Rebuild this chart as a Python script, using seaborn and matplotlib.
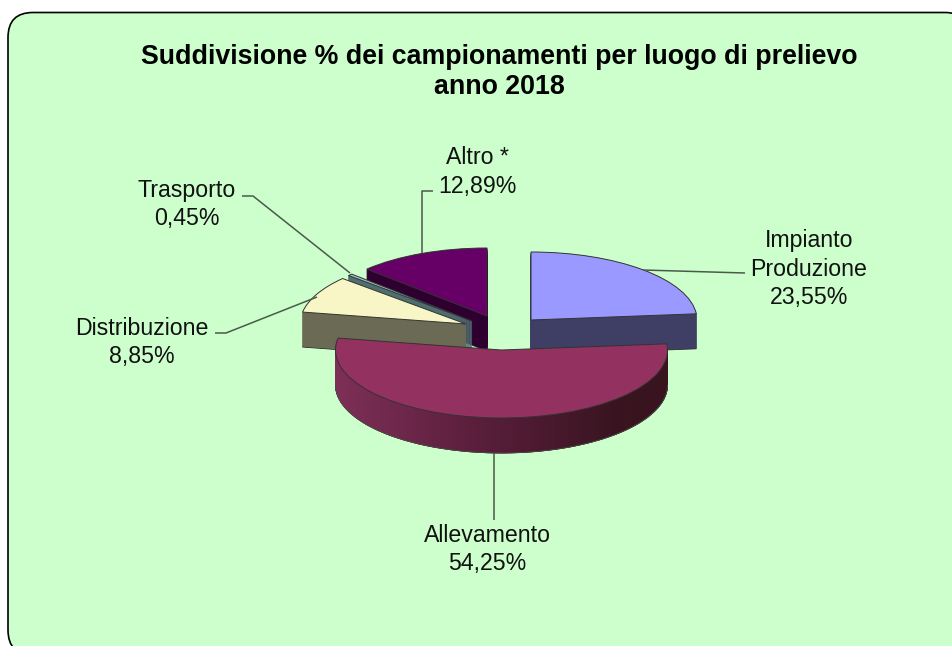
import numpy as np
import matplotlib
matplotlib.use("Agg")
import matplotlib.pyplot as plt
from matplotlib.patches import FancyBboxPatch
import seaborn as sns

# ---- data ----
categories = ["Impianto\nProduzione", "Allevamento", "Distribuzione", "Trasporto", "Altro *"]
values = [23.55, 54.25, 8.85, 0.45, 12.89]
value_labels = ["23,55%", "54,25%", "8,85%", "0,45%", "12,89%"]
title_lines = "Suddivisione % dei campionamenti per luogo di prelievo\nanno 2018"

# ---- style ----
top_colors = ["#9999FF", "#933160", "#F8F5C6", "#9CC4C8", "#660066"]
wall_colors = ["#3F3F66", "#7E2F57", "#6B6B55", "#4F6E70", "#2E0030"]
gradient_ends = ["#7E2F57", "#5A1E3C", "#38141F"]
W, H = 953, 646
RX, RY = 166.0, 68.0          # pixels per pie radius
DEPTH = 35                    # pixels of extrusion
CX, CY = 499.0, 333.0         # pixel position of pie origin
apex_px = [(531, 320), (501.5, 350), (466, 324), (472, 321), (487, 316)]
draw_order = [4, 3, 2, 0, 1]

sns.set_theme(style="white")
plt.rcParams["font.family"] = ["Liberation Sans", "DejaVu Sans"]

fig = plt.figure(figsize=(W / 100, H / 100), dpi=100, facecolor="white")

# background + annotation axes in pixel coordinates
bg = fig.add_axes([0, 0, 1, 1])
bg.set_xlim(0, W)
bg.set_ylim(H, 0)
bg.axis("off")
bg.add_patch(FancyBboxPatch((8 + 25, 12.5 + 25), 970 - 8 - 50, 655 - 12.5 - 50,
                            boxstyle="round,pad=25,rounding_size=25",
                            fc="#CCFFCC", ec="black", lw=1.2, clip_on=True))

# pie axes: 1 unit = RX px horizontally, RY px vertically
pie_ax = fig.add_axes([0, 0, 1, 1], facecolor="none", zorder=2)


def px_to_data(x, y):
    return (x - CX) / RX, (CY - y) / RY


def draw_pie(dy, colors, edges, lw, z):
    wedges, _ = pie_ax.pie(values, startangle=90, counterclock=False, radius=1,
                           colors=colors, wedgeprops=dict(linewidth=lw))
    for i, w in enumerate(wedges):
        ax_, ay_ = px_to_data(*apex_px[i])
        w.set_center((ax_, ay_ - dy / RY))
        w.set_edgecolor(edges[i])
        w.set_zorder(z + 10 * draw_order.index(i))
    return wedges


for d in range(DEPTH, 0, -1):
    draw_pie(d, wall_colors, wall_colors if d < DEPTH else ["#2a2a2a"] * 5, 0.6, 1)

# shaded outer wall of the largest slice
fractions = np.cumsum([0] + values) / sum(values)
t0, t1 = 360 * fractions[1], 360 * fractions[2]
ax1, ay1 = px_to_data(*apex_px[1])
cmap = sns.blend_palette(gradient_ends, n_colors=256, as_cmap=True)
steps = np.linspace(max(t0, 90), min(t1, 270), 181)
for a, b in zip(steps[:-1], steps[1:]):
    th = np.radians(np.linspace(a, b, 3))
    xs = ax1 + np.sin(th)
    ys = ay1 + np.cos(th)
    across = (1 - np.sin(np.radians((a + b) / 2))) / 2   # 0 on the right, 1 on the left
    c = cmap(1 - min(1.0, max(0.0, across - 0.15) / 0.85))
    pie_ax.fill(np.r_[xs, xs[::-1]], np.r_[ys, ys[::-1] - DEPTH / RY],
                fc=c, ec=c, lw=0.5, zorder=2 + 10 * draw_order.index(1))
# bottom rim of the shaded wall
th = np.radians(np.linspace(90, 270, 181))
pie_ax.plot(ax1 + np.sin(th), ay1 + np.cos(th) - DEPTH / RY, color="#4a4a4a",
            lw=0.6, zorder=3 + 10 * draw_order.index(1))

draw_pie(0, top_colors, ["#333333"] * 5, 0.7, 5)
pie_ax.set_aspect("auto")
pie_ax.set_xlim(-CX / RX, (W - CX) / RX)
pie_ax.set_ylim((CY - H) / RY, CY / RY)
pie_ax.axis("off")

# overlay for title, leaders and labels
top = fig.add_axes([0, 0, 1, 1], facecolor="none", zorder=3)
top.set_xlim(0, W)
top.set_ylim(H, 0)
top.axis("off")

top.text(499, 72, title_lines, ha="center", va="center", fontsize=19.3,
         fontweight="bold", color="black", linespacing=1.22)

label_pos = [(809, 269), (487, 549.5), (142, 342.5), (187, 204.5), (477, 172)]
leaders = [
    ([643, 745], [270, 273]),
    ([494, 494], [453, 520]),
    ([215, 226, 317], [333, 333, 297]),
    ([242, 253, 350], [196, 196, 273]),
    ([433, 422, 422], [190.5, 190.5, 253]),
]
for cat, val, (x, y), (lx, ly) in zip(categories, value_labels, label_pos, leaders):
    top.text(x, y, f"{cat}\n{val}", ha="center", va="center", fontsize=16.7,
             color="#111111", linespacing=1.28)
    top.plot(lx, ly, color="#4a5a4a", lw=1.1, solid_capstyle="butt")

fig.savefig("out.png", dpi=100)
